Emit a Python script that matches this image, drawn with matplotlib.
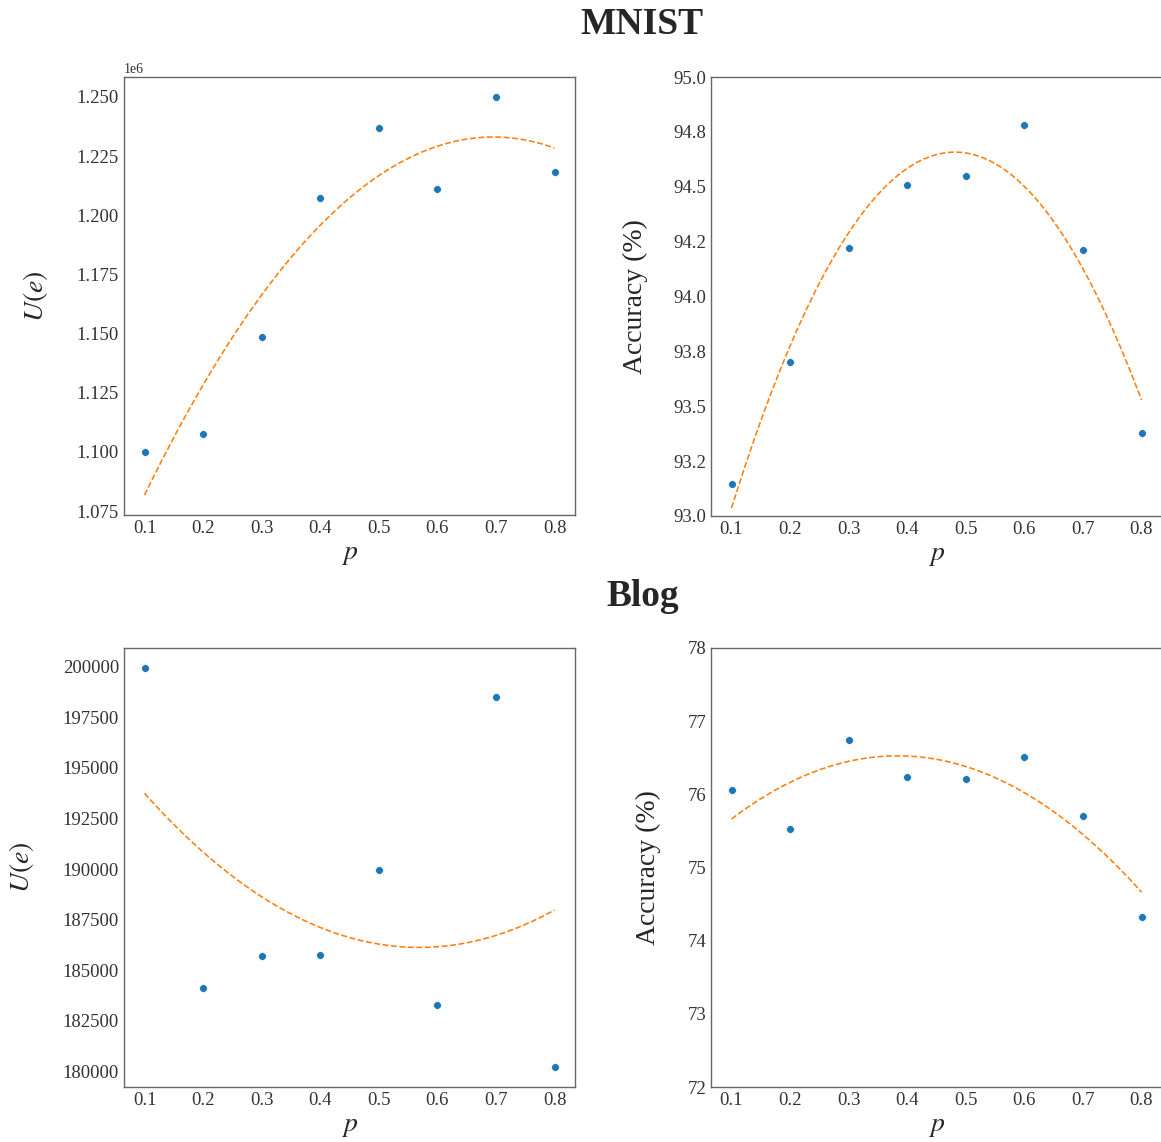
import numpy as np
import matplotlib
matplotlib.use("Agg")
import matplotlib.pyplot as plt
from matplotlib.ticker import FormatStrFormatter, MultipleLocator

# ---- data ----
p_values = [0.1, 0.2, 0.3, 0.4, 0.5, 0.6, 0.7, 0.8]
mnist_utility = [1.0998e6, 1.1074e6, 1.1486e6, 1.2075e6, 1.2370e6, 1.2109e6, 1.2500e6, 1.2184e6]
mnist_accuracy = [93.146, 93.70, 94.22, 94.51, 94.55, 94.78, 94.21, 93.38]
blog_utility = [199950, 184110, 185700, 185750, 189950, 183270, 198515, 180200]
blog_accuracy = [76.06, 75.53, 76.74, 76.24, 76.21, 76.51, 75.70, 74.33]
titles = ["MNIST", "Blog"]

plt.rcParams.update({
    "font.family": ["Liberation Serif", "DejaVu Serif"],
    "mathtext.fontset": "stix",
    "axes.edgecolor": "0.4",
    "axes.linewidth": 1.0,
    "text.color": "0.15",
    "xtick.color": "0.2",
    "ytick.color": "0.2",
    "xtick.major.size": 0,
    "ytick.major.size": 0,
    "xtick.labelsize": 13.5,
    "ytick.labelsize": 13.5,
    "axes.labelsize": 20,
    "axes.labelcolor": "0.15",
})

fig = plt.figure(figsize=(11.61, 11.42), dpi=100)

W = 451 / 1161
H = 438 / 1142
positions = {
    "tl": [124 / 1161, 1 - 515 / 1142, W, H],
    "tr": [711 / 1161, 1 - 516 / 1142, W, H + 1 / 1142],
    "bl": [124 / 1161, 1 - 1087 / 1142, W, 439 / 1142],
    "br": [711 / 1161, 1 - 1087 / 1142, W, 439 / 1142],
}

blue = "#1f77b4"
orange = "#ff7f0e"


def draw(ax, x, y):
    x = np.asarray(x)
    y = np.asarray(y)
    ax.scatter(x, y, s=32, color=blue, edgecolor="white", linewidth=0.5, zorder=3)
    coef = np.polyfit(x, y, 2)
    xs = np.linspace(x.min(), x.max(), 200)
    ax.plot(xs, np.polyval(coef, xs), "--", color=orange, linewidth=1.15)
    ax.set_xticks(p_values)
    ax.set_xlabel(r"$p$")


ax_tl = fig.add_axes(positions["tl"])
draw(ax_tl, p_values, mnist_utility)
ax_tl.set_ylabel(r"$U(e)$")
ax_tl.yaxis.get_offset_text().set_fontsize(10)
ax_tl.yaxis.set_label_coords(-0.164, 0.5)

ax_tr = fig.add_axes(positions["tr"])
draw(ax_tr, p_values, mnist_accuracy)
ax_tr.set_ylim(93, 95)
ax_tr.yaxis.set_major_locator(MultipleLocator(0.25))
ax_tr.yaxis.set_major_formatter(FormatStrFormatter("%.1f"))
ax_tr.set_ylabel("Accuracy (%)")
ax_tr.yaxis.set_label_coords(-0.140, 0.5)

ax_bl = fig.add_axes(positions["bl"])
draw(ax_bl, p_values, blog_utility)
ax_bl.ticklabel_format(axis="y", style="plain", useOffset=False)
ax_bl.set_ylabel(r"$U(e)$")
ax_bl.yaxis.set_label_coords(-0.195, 0.5)

ax_br = fig.add_axes(positions["br"])
draw(ax_br, p_values, blog_accuracy)
ax_br.set_ylim(72, 78)
ax_br.yaxis.set_major_locator(MultipleLocator(1))
ax_br.set_ylabel("Accuracy (%)")
ax_br.yaxis.set_label_coords(-0.111, 0.5)

fig.text(642 / 1161, 1 - 24 / 1142, titles[0], ha="center", va="center",
         fontsize=27, fontweight="bold", color="0.15")
fig.text(643 / 1161, 1 - 596 / 1142, titles[1], ha="center", va="center",
         fontsize=27, fontweight="bold", color="0.15")

fig.savefig("out.png", dpi=100)
